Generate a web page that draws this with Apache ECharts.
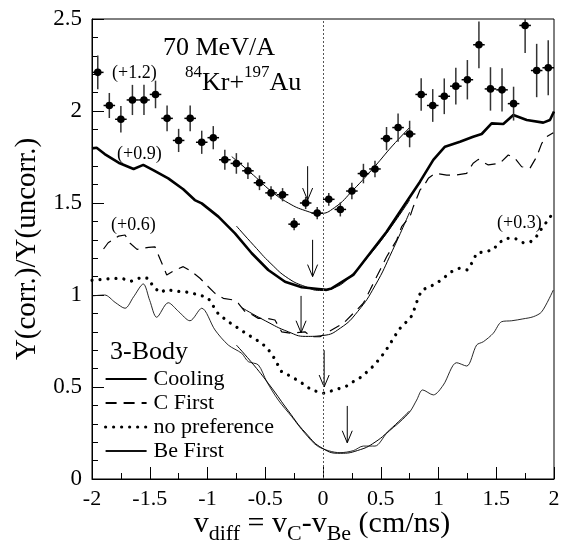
<!DOCTYPE html>
<html>
<head>
<meta charset="utf-8">
<script src="https://cdn.jsdelivr.net/npm/echarts@6/dist/echarts.min.js"></script>
<style>
  html, body { margin: 0; padding: 0; background: #fff; }
  #chart { width: 566px; height: 545px; }
</style>
</head>
<body>
<div id="chart"></div>
<script>
// measured points, offset +1.2 already applied
const dataX = [-1.95, -1.85, -1.75, -1.65, -1.55, -1.45, -1.35, -1.25, -1.15, -1.05,
  -0.95, -0.85, -0.75, -0.65, -0.55, -0.45, -0.35, -0.25, -0.15, -0.05,
  0.05, 0.15, 0.25, 0.35, 0.45, 0.55, 0.65, 0.75, 0.85, 0.95,
  1.05, 1.15, 1.25, 1.35, 1.45, 1.55, 1.65, 1.75, 1.85, 1.95];
const dataY = [2.21, 2.03, 1.955, 2.06, 2.06, 2.09, 1.96, 1.84, 1.96, 1.83,
  1.855, 1.735, 1.715, 1.675, 1.61, 1.555, 1.545, 1.385, 1.50, 1.445,
  1.52, 1.465, 1.565, 1.66, 1.685, 1.85, 1.91, 1.875, 2.09, 2.03,
  2.08, 2.135, 2.17, 2.36, 2.12, 2.115, 2.04, 2.465, 2.22, 2.235];
const dataErr = [0.092, 0.068, 0.072, 0.082, 0.082, 0.075, 0.07, 0.063, 0.07, 0.063,
  0.063, 0.054, 0.056, 0.045, 0.04, 0.036, 0.036, 0.033, 0.033, 0.033,
  0.035, 0.038, 0.045, 0.053, 0.045, 0.063, 0.077, 0.072, 0.088, 0.089,
  0.097, 0.1, 0.107, 0.127, 0.118, 0.118, 0.092, 0.15, 0.145, 0.15];
const binHalf = 0.05;

const dataFit = [[-0.79, 1.752], [-0.6, 1.65], [-0.45, 1.565], [-0.3, 1.50], [-0.15, 1.458],
  [-0.03, 1.443], [0.1, 1.475], [0.26, 1.57], [0.45, 1.70], [0.6, 1.81], [0.75, 1.91]];

// 3-body simulations (offsets +0.9, +0.6, +0.3, 0)
const cooling = [[-2, 1.797], [-1.96, 1.80], [-1.89, 1.766], [-1.77, 1.719], [-1.64, 1.685],
  [-1.556, 1.707], [-1.47, 1.679], [-1.34, 1.634], [-1.21, 1.575], [-1.11, 1.516],
  [-1.05, 1.498], [-0.906, 1.426], [-0.762, 1.335], [-0.617, 1.227], [-0.474, 1.136],
  [-0.329, 1.072], [-0.184, 1.042], [-0.04, 1.033], [0.03, 1.028], [0.075, 1.036],
  [0.262, 1.109], [0.407, 1.227], [0.551, 1.344], [0.695, 1.48], [0.84, 1.616],
  [0.955, 1.734], [1.056, 1.806], [1.186, 1.833], [1.30, 1.86], [1.374, 1.875],
  [1.46, 1.933], [1.561, 1.929], [1.648, 1.978], [1.764, 1.951], [1.907, 1.937],
  [1.965, 1.951], [2.0, 1.997]];
const coolingFit = [[-0.75, 1.375], [-0.6, 1.27], [-0.45, 1.17], [-0.3, 1.09], [-0.15, 1.045],
  [-0.03, 1.025], [0.1, 1.04], [0.25, 1.11], [0.4, 1.215], [0.55, 1.335], [0.75, 1.516]];

const cFirst = [[-1.9, 1.25], [-1.86, 1.284], [-1.77, 1.32], [-1.714, 1.326], [-1.67, 1.281],
  [-1.61, 1.248], [-1.51, 1.259], [-1.455, 1.262], [-1.353, 1.109], [-1.281, 1.136],
  [-1.21, 1.154], [-1.137, 1.127], [-1.065, 1.091], [-0.993, 1.045], [-0.935, 1.009],
  [-0.863, 0.982], [-0.776, 0.973], [-0.733, 0.955], [-0.675, 0.909], [-0.632, 0.90],
  [-0.56, 0.873], [-0.487, 0.873], [-0.416, 0.864], [-0.358, 0.80], [-0.271, 0.792],
  [-0.156, 0.80], [-0.1, 0.773], [-0.026, 0.773], [0.176, 0.846], [0.262, 0.90],
  [0.349, 0.955], [0.407, 1.027], [0.494, 1.136], [0.551, 1.208], [0.638, 1.299],
  [0.681, 1.371], [0.753, 1.426], [0.782, 1.48], [0.84, 1.571], [0.869, 1.589],
  [0.912, 1.634], [0.97, 1.661], [1.071, 1.652], [1.157, 1.652], [1.244, 1.661],
  [1.30, 1.716], [1.345, 1.737], [1.431, 1.707], [1.532, 1.716], [1.604, 1.761],
  [1.662, 1.743], [1.72, 1.697], [1.792, 1.689], [1.85, 1.752], [1.894, 1.824],
  [1.937, 1.86], [1.994, 1.882]];
const cFirstFit = [[-0.7, 0.93], [-0.5, 0.86], [-0.3, 0.80], [-0.15, 0.775], [0, 0.78],
  [0.15, 0.82], [0.3, 0.91], [0.45, 1.05], [0.6, 1.24], [0.75, 1.45]];

const noPref = [[-2, 1.08], [-1.97, 1.082], [-1.90, 1.085], [-1.82, 1.09], [-1.74, 1.09],
  [-1.66, 1.075], [-1.57, 1.096], [-1.51, 1.09], [-1.47, 1.045], [-1.41, 1.013],
  [-1.353, 1.031], [-1.28, 1.02], [-1.195, 1.018], [-1.065, 1.0], [-0.993, 0.982],
  [-0.906, 0.897], [-0.82, 0.855], [-0.733, 0.819], [-0.647, 0.783], [-0.56, 0.75],
  [-0.487, 0.715], [-0.43, 0.665], [-0.358, 0.583], [-0.271, 0.556], [-0.156, 0.511],
  [-0.1, 0.484], [0.003, 0.466], [0.118, 0.487], [0.205, 0.505], [0.262, 0.529],
  [0.335, 0.556], [0.436, 0.614], [0.494, 0.656], [0.537, 0.692], [0.58, 0.734],
  [0.623, 0.778], [0.667, 0.819], [0.719, 0.852], [0.768, 0.886], [0.797, 0.933],
  [0.82, 0.977], [0.855, 1.027], [0.926, 1.045], [0.99, 1.067], [1.048, 1.094],
  [1.114, 1.127], [1.18, 1.145], [1.249, 1.136], [1.296, 1.181], [1.33, 1.227],
  [1.403, 1.236], [1.474, 1.245], [1.518, 1.281], [1.584, 1.308], [1.662, 1.308],
  [1.734, 1.284], [1.798, 1.29], [1.85, 1.32], [1.894, 1.362], [1.937, 1.398], [1.985, 1.44]];

const beFirst = [[-2, 0.995], [-1.89, 1.0], [-1.80, 0.96], [-1.714, 0.928], [-1.64, 0.99],
  [-1.556, 1.06], [-1.50, 0.97], [-1.44, 0.879], [-1.34, 0.958], [-1.25, 0.91],
  [-1.152, 0.86], [-1.05, 0.928], [-0.935, 0.81], [-0.82, 0.728], [-0.704, 0.683],
  [-0.647, 0.638], [-0.56, 0.62], [-0.487, 0.529], [-0.387, 0.429], [-0.271, 0.339],
  [-0.156, 0.248], [-0.04, 0.176], [0.147, 0.143], [0.262, 0.154], [0.349, 0.179],
  [0.45, 0.179], [0.551, 0.248], [0.667, 0.311], [0.753, 0.366], [0.811, 0.429],
  [0.863, 0.484], [0.955, 0.457], [1.042, 0.511], [1.157, 0.632], [1.244, 0.614],
  [1.33, 0.728], [1.388, 0.746], [1.474, 0.792], [1.547, 0.855], [1.634, 0.86],
  [1.73, 0.87], [1.821, 0.882], [1.894, 0.909], [1.994, 1.027]];
const beFirstFit = [[-0.75, 0.728], [-0.6, 0.62], [-0.45, 0.50], [-0.3, 0.37], [-0.15, 0.25],
  [0, 0.165], [0.15, 0.14], [0.3, 0.155], [0.45, 0.2], [0.6, 0.28], [0.75, 0.37]];

// minimum markers
const arrowX = [-0.133, -0.09, -0.19, 0.01, 0.21];
const arrowTop = [1.70, 1.30, 0.995, 0.70, 0.397];
const arrowBottom = [1.516, 1.10, 0.795, 0.50, 0.197];
const refLineX = [0];

const SERIF = '"Liberation Serif", "Times New Roman", serif';
const measureCtx = document.createElement('canvas').getContext('2d');
function textWidth(t, size) {
  measureCtx.font = size + 'px ' + SERIF;
  return measureCtx.measureText(t).width;
}
// parts: [text, fontSize, baseline shift]
function textRun(parts, x, baseline, align) {
  const total = parts.reduce((s, p) => s + textWidth(p[0], p[1]), 0);
  let cx = align === 'center' ? x - total / 2 : x;
  return parts.map(p => {
    const el = {
      type: 'text', x: cx, y: baseline + p[2] - 0.34 * p[1], silent: true,
      style: { text: p[0], font: p[1] + 'px ' + SERIF, fill: '#000', align: 'left', verticalAlign: 'middle' }
    };
    cx += textWidth(p[0], p[1]);
    return el;
  });
}

const chart = echarts.init(document.getElementById('chart'), null, { renderer: 'canvas' });

const thin = { color: '#000', width: 1 };
const black = { color: '#000' };
const dotStyle = { color: '#000', width: 3.2, type: [0.01, 8], cap: 'round' };

const option = {
  animation: false,
  backgroundColor: '#fff',
  grid: { left: 92, right: 12, top: 19, bottom: 66, show: true, borderColor: '#000', borderWidth: 1,
    containLabel: false, outerBoundsMode: 'none' },
  xAxis: {
    type: 'value', min: -2, max: 2, interval: 0.5,
    splitLine: { show: false },
    axisLine: { onZero: false, lineStyle: { color: '#000', width: 1 } },
    axisTick: { inside: true, length: 12, lineStyle: { color: '#000' } },
    minorTick: { show: true, splitNumber: 2, length: 6, lineStyle: { color: '#000' } },
    axisLabel: { color: '#000', fontFamily: SERIF, fontSize: 22, margin: 9 }
  },
  yAxis: {
    type: 'value', min: 0, max: 2.5, interval: 0.5,
    name: 'Y(corr.)/Y(uncorr.)', nameLocation: 'middle', nameGap: 49, nameRotate: 90,
    nameTextStyle: { color: '#000', fontFamily: SERIF, fontSize: 29 },
    splitLine: { show: false },
    axisLine: { onZero: false, lineStyle: { color: '#000', width: 1 } },
    axisTick: { inside: true, length: 12, lineStyle: { color: '#000' } },
    minorTick: { show: true, splitNumber: 5, length: 6, lineStyle: { color: '#000' } },
    axisLabel: { color: '#000', fontFamily: SERIF, fontSize: 23, margin: 10 }
  },
  legend: {
    data: [
      { name: 'Cooling' },
      { name: 'C First' },
      { name: 'no preference', lineStyle: dotStyle },
      { name: 'Be First' }
    ],
    orient: 'vertical', left: 104, top: 368, padding: 0,
    itemWidth: 41, itemHeight: 14, itemGap: 2,
    itemStyle: { opacity: 0 },
    textStyle: { color: '#000', fontFamily: SERIF, fontSize: 22, padding: [0, 0, 0, 2] },
    selectedMode: false
  },
  graphic: { elements: [].concat(
    textRun([['70 MeV/A', 26, 0]], 163, 57, 'left'),
    textRun([['84', 17, 0], ['Kr+', 26, 14], ['197', 17, 0], ['Au', 26, 14]], 185, 78, 'left'),
    textRun([['(+1.2)', 18, 0]], 112, 79, 'left'),
    textRun([['(+0.9)', 18, 0]], 117, 160, 'left'),
    textRun([['(+0.6)', 18, 0]], 111, 231, 'left'),
    textRun([['(+0.3)', 18, 0]], 497, 229, 'left'),
    textRun([['3-Body', 26, 0]], 110, 361, 'left'),
    textRun([['v', 30, 0], ['diff', 22, 8], [' = v', 30, 0], ['C', 22, 8], ['-v', 30, 0],
      ['Be', 22, 8], [' (cm/ns)', 30, 0]], 322, 534, 'center')
  ) },
  series: [
    {
      type: 'custom', name: 'data', clip: true, z: 5,
      data: dataX.map((x, i) => [x, dataY[i], dataErr[i]]),
      encode: { x: 0, y: 1 },
      renderItem: (params, api) => {
        const x = api.value(0), y = api.value(1), e = api.value(2);
        const c = api.coord([x, y]);
        const t = api.coord([x, y + e]);
        const b = api.coord([x, y - e]);
        const l = api.coord([x - binHalf, y]);
        const r = api.coord([x + binHalf, y]);
        return { type: 'group', children: [
          { type: 'line', shape: { x1: t[0], y1: t[1], x2: b[0], y2: b[1] }, style: { stroke: '#333', lineWidth: 1.5 } },
          { type: 'line', shape: { x1: l[0], y1: l[1], x2: r[0], y2: r[1] }, style: { stroke: '#000', lineWidth: 1.5 } },
          { type: 'circle', shape: { cx: c[0], cy: c[1], r: 3.8 }, style: { fill: '#000' } }
        ] };
      }
    },
    { type: 'line', name: 'dataFit', data: dataFit, smooth: true, symbol: 'none', itemStyle: black, lineStyle: thin, silent: true },
    { type: 'line', name: 'Cooling', data: cooling, symbol: 'none', itemStyle: black, lineStyle: { color: '#000', width: 2.6 }, silent: true },
    { type: 'line', name: 'coolingFit', data: coolingFit, smooth: true, symbol: 'none', itemStyle: black, lineStyle: thin, silent: true },
    { type: 'line', name: 'C First', data: cFirst, symbol: 'none', itemStyle: black,
      lineStyle: { color: '#000', width: 1.2, type: [11, 7] }, silent: true },
    { type: 'line', name: 'cFirstFit', data: cFirstFit, smooth: true, symbol: 'none', itemStyle: black, lineStyle: thin, silent: true },
    { type: 'line', name: 'no preference', data: noPref, symbol: 'none', itemStyle: black,
      lineStyle: dotStyle, silent: true },
    { type: 'line', name: 'Be First', data: beFirst, smooth: 0.3, symbol: 'none', itemStyle: black,
      lineStyle: { color: '#111', width: 0.9 }, silent: true },
    { type: 'line', name: 'beFirstFit', data: beFirstFit, smooth: true, symbol: 'none', itemStyle: black, lineStyle: thin, silent: true },
    {
      type: 'custom', name: 'arrows', silent: true,
      data: arrowX.map((x, i) => [x, arrowTop[i], arrowBottom[i]]),
      encode: { x: 0, y: [1, 2] },
      renderItem: (params, api) => {
        const t = api.coord([api.value(0), api.value(1)]);
        const b = api.coord([api.value(0), api.value(2)]);
        return { type: 'group', children: [
          { type: 'line', shape: { x1: t[0], y1: t[1], x2: b[0], y2: b[1] }, style: { stroke: '#000', lineWidth: 1 } },
          { type: 'polyline', shape: { points: [[b[0] - 5, b[1] - 12], [b[0], b[1]], [b[0] + 5, b[1] - 12]] },
            style: { stroke: '#000', fill: null, lineWidth: 1 } }
        ] };
      },
      markLine: {
        silent: true, symbol: 'none', label: { show: false },
        lineStyle: { color: '#555', width: 1, type: [2, 2] },
        data: refLineX.map(v => ({ xAxis: v }))
      }
    }
  ]
};

chart.setOption(option);
</script>
</body>
</html>
